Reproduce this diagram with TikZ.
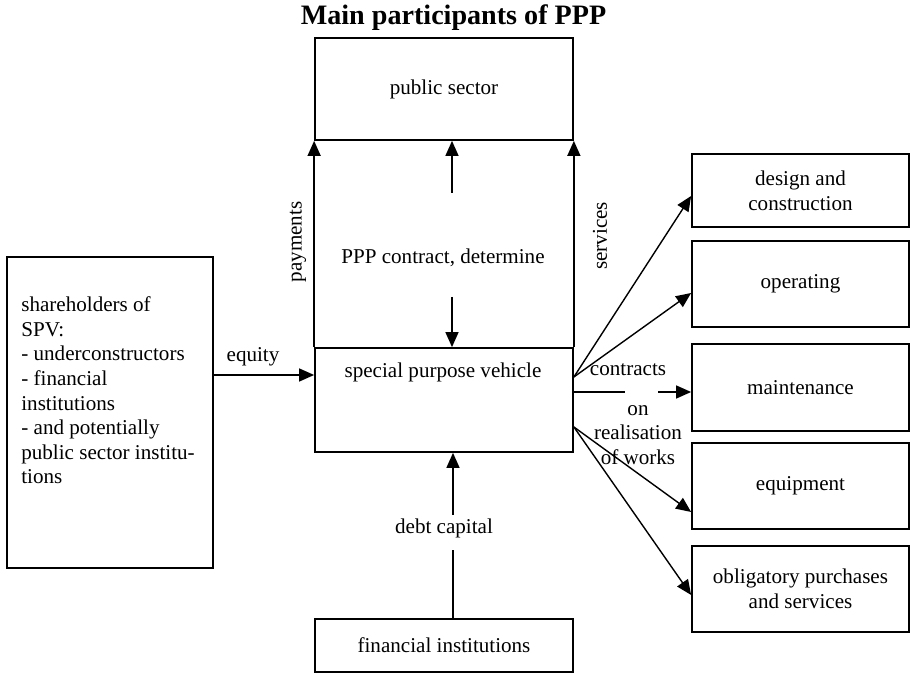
\documentclass[tikz,border=0pt]{standalone}
\usepackage{fontspec}
\setmainfont{Liberation Serif}
\usepackage{xcolor}
\usepackage{tikz}
\usetikzlibrary{arrows.meta}

\tikzset{
  box/.style={draw, line width=1pt, inner sep=0pt, align=center},
  flow/.style={line width=0.8pt},
}

\begin{document}
\begin{tikzpicture}[scale=1.0, >={Triangle[length=0.3cm,width=0.26cm]},
    every node/.style={font=\fontsize{12}{14}\selectfont}]
  \useasboundingbox (0,0) rectangle (18.2,13.48);
  \node[font=\fontsize{16}{19}\selectfont\bfseries, anchor=base] (title) at (9.07,12.98) {Main participants of PPP};
  \node[box, minimum width=5.16cm, minimum height=2.04cm] (ps) at (8.88,11.70) {public sector};
  \node[box, minimum width=5.16cm, minimum height=2.08cm] (spv) at (8.88,5.48) {};
  \node (spvtext) at (8.86,6.04) {special purpose vehicle};
  \node[box, minimum width=5.16cm, minimum height=1.06cm] (fin) at (8.88,0.57) {financial institutions};
  \node[box, minimum width=4.12cm, minimum height=6.22cm] (sh) at (2.20,5.23) {};
  \node[anchor=north west, align=left, inner sep=0pt] (shtext) at (0.42,7.55)
    {shareholders of\\SPV:\\- underconstructors\\- financial\\institutions\\- and potentially\\public sector institu-\\tions};
  \node[box, minimum width=4.34cm, minimum height=1.46cm] (dc) at (16.01,9.67) {design and\\construction};
  \node[box, minimum width=4.34cm, minimum height=1.72cm] (op) at (16.01,7.80) {operating};
  \node[box, minimum width=4.34cm, minimum height=1.74cm] (mt) at (16.01,5.73) {maintenance};
  \node[box, minimum width=4.34cm, minimum height=1.72cm] (eqp) at (16.01,3.76) {equipment};
  \node[box, minimum width=4.34cm, minimum height=1.72cm] (ob) at (16.01,1.70) {obligatory purchases\\and services};

  \node[rotate=90] (pay) at (5.96,8.64) {payments};
  \node[rotate=90] (serv) at (12.0,8.76) {services};
  \node (ppp) at (8.86,8.32) {PPP contract, determine};
  \node (eq) at (5.06,6.34) {equity};
  \node (debt) at (8.88,2.92) {debt capital};
  \node (con) at (12.56,6.08) {contracts};
  \node[align=center] (real) at (12.76,4.78) {on\\realisation\\of works};

  \coordinate (cup) at (9.04,9.62);
  \coordinate (cdown) at (9.04,7.54);
  \coordinate (dtop) at (9.06,3.18);
  \coordinate (dbot) at (9.06,2.48);
  \coordinate (eqline) at (5,5.98);
  \coordinate (gapl) at (12.50,5.64);
  \coordinate (gapr) at (13.16,5.64);

  \draw[flow,->] (spv.north west) -- (ps.south west);
  \draw[flow,->] (spv.north east) -- (ps.south east);
  \draw[flow,->] (cup) -- (cup |- ps.south);
  \draw[flow,->] (cdown) -- (cdown |- spv.north);
  \draw[flow,->] (dtop) -- (dtop |- spv.south);
  \draw[flow] (dbot |- fin.north) -- (dbot);
  \draw[flow,->] (sh.east |- eqline) -- (spv.west |- eqline);
  \draw[flow,->] ([yshift=0.46cm]spv.east) -- ([yshift=-0.11cm]dc.west);
  \draw[flow,->] ([yshift=0.46cm]spv.east) -- ([yshift=-0.18cm]op.west);
  \draw[flow] (gapl -| spv.east) -- (gapl);
  \draw[flow,->] (gapr) -- (gapr -| mt.west);
  \draw[flow,->] ([yshift=-0.54cm]spv.east) -- ([yshift=-0.52cm]eqp.west);
  \draw[flow,->] ([yshift=-0.54cm]spv.east) -- ([yshift=-0.12cm]ob.west);
\end{tikzpicture}
\end{document}
